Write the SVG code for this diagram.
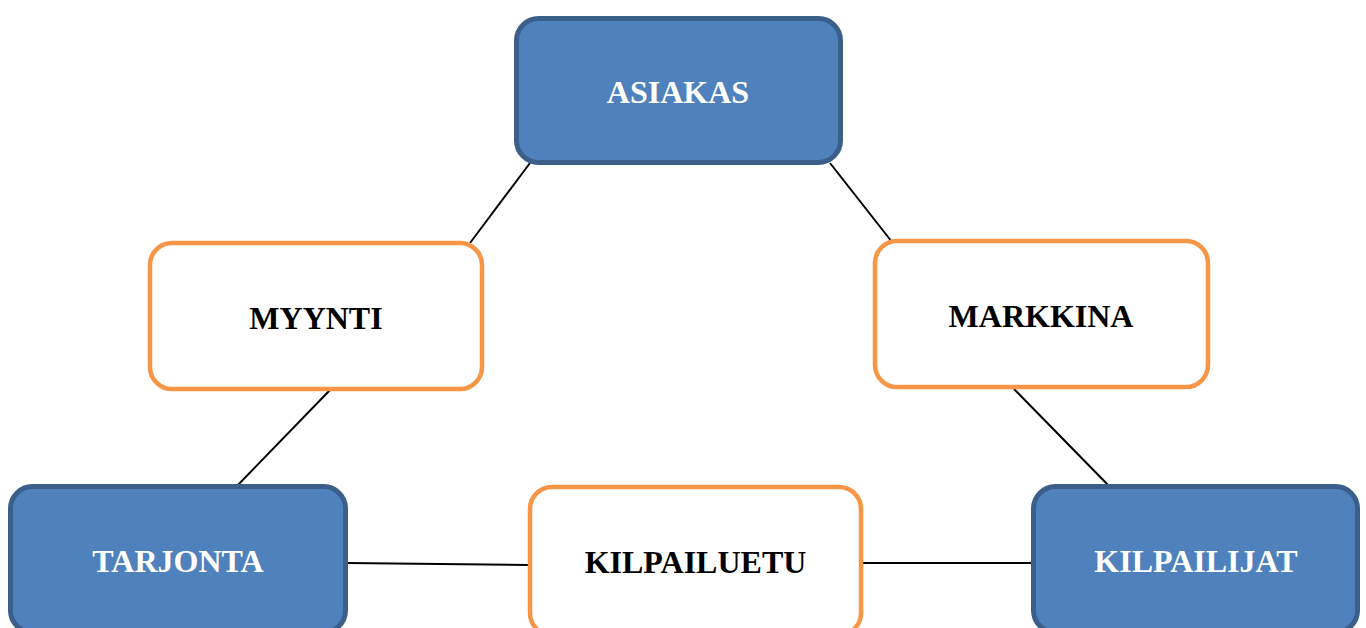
<svg xmlns="http://www.w3.org/2000/svg" width="1366" height="628" viewBox="0 0 1366 628">
<style>
.blue{fill:#4F81BD;stroke:#3A5F8B;stroke-width:5}
.orange{fill:#FFFFFF;stroke:#F79646;stroke-width:4.5}
.tw{font-family:"Liberation Serif","Times New Roman",serif;font-weight:bold;font-size:32px;fill:#FFFFFF;text-anchor:middle}
.tb{font-family:"Liberation Serif","Times New Roman",serif;font-weight:bold;font-size:32px;fill:#000000;text-anchor:middle}
.conn line{stroke:#000000;stroke-width:2}
</style>
<rect width="1366" height="628" fill="#FFFFFF"/>
<g id="connectors" class="conn">
<line x1="530" y1="163" x2="470" y2="243"/>
<line x1="830" y1="163" x2="892" y2="242"/>
<line x1="330" y1="390" x2="236" y2="487"/>
<line x1="1014" y1="389" x2="1110" y2="487"/>
<line x1="347" y1="563" x2="529" y2="565"/>
<line x1="862" y1="563" x2="1032" y2="563"/>
</g>
<g id="asiakas">
<rect class="blue" x="516.5" y="18.5" width="324" height="144" rx="22"/>
<text class="tw" x="678" y="103">ASIAKAS</text>
</g>
<g id="myynti">
<rect class="orange" x="150" y="243" width="332" height="146" rx="22"/>
<text class="tb" x="316" y="329">MYYNTI</text>
</g>
<g id="markkina">
<rect class="orange" x="875" y="241" width="333" height="146" rx="22"/>
<text class="tb" x="1041" y="327">MARKKINA</text>
</g>
<g id="tarjonta">
<rect class="blue" x="10.5" y="486.5" width="335" height="146" rx="22"/>
<text class="tw" x="178" y="572">TARJONTA</text>
</g>
<g id="kilpailuetu">
<rect class="orange" x="530" y="487" width="331" height="148" rx="22"/>
<text class="tb" x="695.5" y="573">KILPAILUETU</text>
</g>
<g id="kilpailijat">
<rect class="blue" x="1033.5" y="486.5" width="324" height="146" rx="22"/>
<text class="tw" x="1196" y="572">KILPAILIJAT</text>
</g>
</svg>
